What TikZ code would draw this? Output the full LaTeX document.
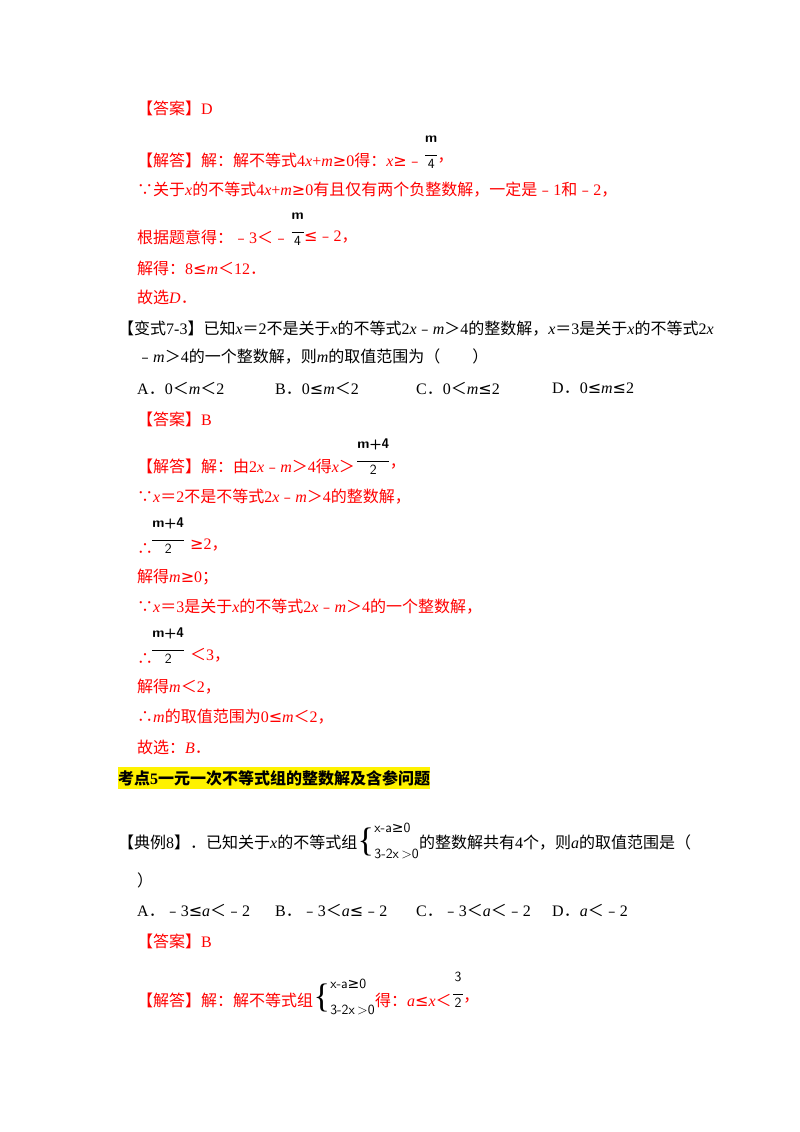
\documentclass[tikz,border=0pt]{standalone}
\usepackage{fontspec}
\setmainfont{Liberation Serif}
\newfontfamily\cjk{Noto Sans CJK SC}
\newfontfamily\sym{DejaVu Sans}
\definecolor{ansred}{RGB}{255,0,0}
\begin{document}
\begin{tikzpicture}[x=1pt,y=-1pt,
  txt/.style={anchor=west,inner sep=0pt,font=\fontsize{16}{17}\selectfont},
  red/.style={txt,text=ansred},
  frac/.style={inner sep=0pt,anchor=west,font=\sffamily\fontsize{14}{15}\selectfont,align=center},
  sys/.style={anchor=west,inner sep=0pt,font=\sffamily\fontsize{14}{15}\selectfont}]
\useasboundingbox (0,0) rectangle (800,1132);
\newcommand\C[1]{{\cjk #1}}
\newcommand\G{{\sym ≥}}
\newcommand\Lq{{\sym ≤}}
\newcommand\M{{\cjk ﹣}}
\newcommand\Bc{{\cjk ∵}}
\newcommand\Tf{{\cjk ∴}}
% block 1
\node[red] (a1) at (137,108) {\C{【答案】}D};
\node[red] (a2) at (137,160) {\C{【解答】解：解不等式}4\textit{x}+\textit{m}\G0\C{得：}\textit{x}\G\M};
\node[frac] (f1) at ([xshift=2pt,yshift=8pt]a2.east) {\textbf{m}\\[-2pt]\rule{12pt}{0.6pt}\\[-2pt]4};
\node[red] (a2b) at ([yshift=-8pt]f1.east) {\C{，}};
\node[red] (a3) at (137,190) {\Bc\C{关于}\textit{x}\C{的不等式}4\textit{x}+\textit{m}\G0\C{有且仅有两个负整数解，一定是}\M1\C{和}\M2\C{，}};
\node[red] (a4) at (137,237) {\C{根据题意得：}\M3\C{＜}\M};
\node[frac] (f2) at ([xshift=2pt,yshift=8pt]a4.east) {\textbf{m}\\[-2pt]\rule{12pt}{0.6pt}\\[-2pt]4};
\node[red] (a4b) at ([yshift=-8pt]f2.east) {\Lq\M2\C{，}};
\node[red] (a5) at (137,268) {\C{解得：}8\Lq\textit{m}\C{＜}12\C{．}};
\node[red] (a6) at (137,297) {\C{故选}\textit{D}\C{．}};
% block 2
\node[txt] (b1) at (118,329) {\C{【变式}7-3\C{】已知}\textit{x}\C{＝}2\C{不是关于}\textit{x}\C{的不等式}2\textit{x}\M\textit{m}\C{＞}4\C{的整数解，}\textit{x}\C{＝}3\C{是关于}\textit{x}\C{的不等式}2\textit{x}};
\node[txt] (b2) at (137,357) {\M\textit{m}\C{＞}4\C{的一个整数解，则}\textit{m}\C{的取值范围为（　　）}};
\node[txt] (o1) at (137,388) {A\C{．}0\C{＜}\textit{m}\C{＜}2};
\node[txt] (o2) at (275,388) {B\C{．}0\Lq\textit{m}\C{＜}2};
\node[txt] (o3) at (416,388) {C\C{．}0\C{＜}\textit{m}\Lq2};
\node[txt] (o4) at (552,388) {D\C{．}0\Lq\textit{m}\Lq2};
\node[red] (c1) at (137,419) {\C{【答案】}B};
\node[red] (c2) at (137,466) {\C{【解答】解：由}2\textit{x}\M\textit{m}\C{＞}4\C{得}\textit{x}\C{＞}};
\node[frac] (f3) at ([xshift=2pt,yshift=9pt]c2.east) {\textbf{m+4}\\[-2pt]\rule{32pt}{0.6pt}\\[-2pt]2};
\node[red] (c2b) at ([yshift=-9pt]f3.east) {\C{，}};
\node[red] (c3) at (137,497) {\Bc\textit{x}\C{＝}2\C{不是不等式}2\textit{x}\M\textit{m}\C{＞}4\C{的整数解，}};
\node[frac] (f4) at (152,536) {\textbf{m+4}\\[-2pt]\rule{32pt}{0.6pt}\\[-2pt]2};
\node[red] (c4) at (137,549) {\Tf};
\node[red] (c4b) at (190,545) {\G2\C{，}};
\node[red] (c5) at (137,577) {\C{解得}\textit{m}\G0\C{；}};
\node[red] (c6) at (137,607) {\Bc\textit{x}\C{＝}3\C{是关于}\textit{x}\C{的不等式}2\textit{x}\M\textit{m}\C{＞}4\C{的一个整数解，}};
\node[frac] (f5) at (152,646) {\textbf{m+4}\\[-2pt]\rule{32pt}{0.6pt}\\[-2pt]2};
\node[red] (c7) at (137,659) {\Tf};
\node[red] (c7b) at (190,655) {\C{＜}3\C{，}};
\node[red] (c8) at (137,687) {\C{解得}\textit{m}\C{＜}2\C{，}};
\node[red] (c9) at (137,717) {\Tf\textit{m}\C{的取值范围为}0\Lq\textit{m}\C{＜}2\C{，}};
\node[red] (c10) at (137,747) {\C{故选：}\textit{B}\C{．}};
% heading
\node[txt,fill=yellow,inner ysep=3pt] (h) at (118,778) {\bfseries\C{考点}5\C{一元一次不等式组的整数解及含参问题}};
% block 3
\node[txt] (d1) at (118,842) {\C{【典例}8\C{】．已知关于}\textit{x}\C{的不等式组}};
\node[inner sep=0pt,anchor=west,font=\fontsize{34}{34}\selectfont] (br1) at (d1.east) {\{};
\node[sys] (s1) at ([yshift=14pt]br1.east) {x-a\G0};
\node[sys] (s2) at ([yshift=-12pt]br1.east) {3-2x\,>0};
\node[txt] (d2) at (s2.east |- d1.east) {\C{的整数解共有}4\C{个，则}\textit{a}\C{的取值范围是（}};
\node[txt] (d3) at (137,880) {\C{）}};
\node[txt] (e1) at (137,910) {A\C{．}\M3\Lq\textit{a}\C{＜}\M2};
\node[txt] (e2) at (275,910) {B\C{．}\M3\C{＜}\textit{a}\Lq\M2};
\node[txt] (e3) at (416,910) {C\C{．}\M3\C{＜}\textit{a}\C{＜}\M2};
\node[txt] (e4) at (552,910) {D\C{．}\textit{a}\C{＜}\M2};
\node[red] (g1) at (137,941) {\C{【答案】}B};
\node[red] (g2) at (137,1000) {\C{【解答】解：解不等式组}};
\node[inner sep=0pt,anchor=west,font=\fontsize{34}{34}\selectfont] (br2) at ([yshift=2pt]g2.east) {\{};
\node[sys] (t1) at ([yshift=14pt]br2.east) {x-a\G0};
\node[sys] (t2) at ([yshift=-12pt]br2.east) {3-2x\,>0};
\node[red] (g3) at (t2.east |- g2.east) {\C{得：}\textit{a}\Lq\textit{x}\C{＜}};
\node[frac] (f6) at ([xshift=1pt,yshift=10pt]g3.east) {3\\[-2pt]\rule{10pt}{0.6pt}\\[-2pt]2};
\node[red] (g4) at ([yshift=-10pt]f6.east) {\C{，}};
\end{tikzpicture}
\end{document}
